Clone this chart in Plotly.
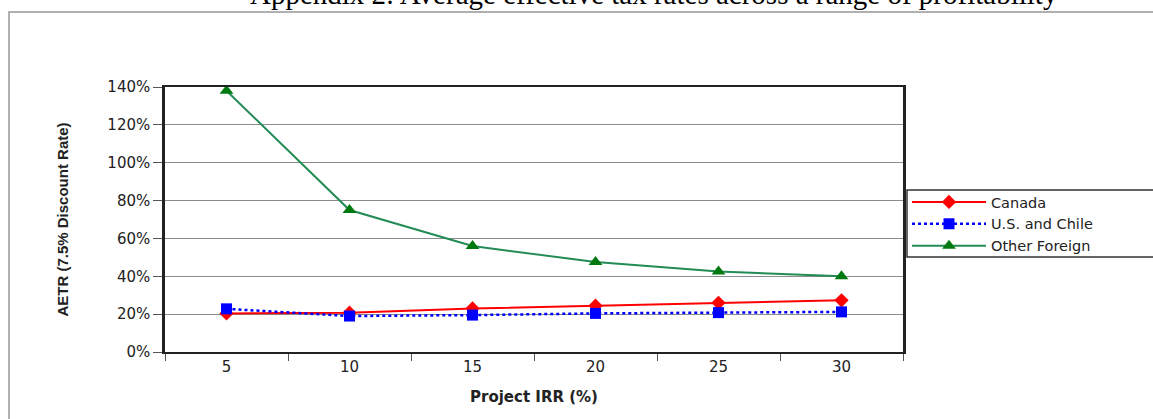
import plotly.graph_objects as go

# Project IRR categories (%)
irr = ["5", "10", "15", "20", "25", "30"]

# Average effective tax rates (%) at a 7.5% discount rate
canada = [20.4, 20.8, 23.0, 24.5, 26.0, 27.3]
us_chile = [22.8, 19.0, 19.5, 20.4, 20.8, 21.2]
other_foreign = [138, 75, 56, 47.5, 42.5, 40]

y_ticks = [0, 20, 40, 60, 80, 100, 120, 140]
y_tick_text = [f"{v}%" for v in y_ticks]

W, H = 1153, 419
L, R, T, B = 165, 250, 87, 67

SANS = "DejaVu Sans, Arial, sans-serif"

fig = go.Figure()
fig.add_trace(go.Scatter(
    x=irr, y=canada, name="Canada", mode="lines+markers",
    line=dict(color="#ff0000", width=2),
    marker=dict(symbol="diamond", size=11, color="#ff0000"),
))
fig.add_trace(go.Scatter(
    x=irr, y=us_chile, name="U.S. and Chile", mode="lines+markers",
    line=dict(color="#0000ff", width=2.5, dash="dot"),
    marker=dict(symbol="square", size=11, color="#0000ff"),
))
fig.add_trace(go.Scatter(
    x=irr, y=other_foreign, name="Other Foreign", mode="lines+markers",
    line=dict(color="#238b55", width=2),
    marker=dict(symbol="triangle-up", size=12, color="#007a10"),
))

def px_to_paper_x(px):
    return (px - L) / (W - L - R)

def px_to_paper_y(py):
    return (H - B - py) / (H - T - B)

# Outer chart frame
fig.add_shape(
    type="rect", xref="paper", yref="paper",
    x0=px_to_paper_x(9), x1=px_to_paper_x(1170),
    y0=px_to_paper_y(440), y1=px_to_paper_y(12),
    line=dict(color="#b0b0b0", width=2), fillcolor="rgba(0,0,0,0)",
    layer="below",
)

# Legend frame (runs off the right edge of the chart area)
fig.add_shape(
    type="rect", xref="paper", yref="paper",
    x0=px_to_paper_x(907), x1=px_to_paper_x(1170),
    y0=px_to_paper_y(257), y1=px_to_paper_y(190),
    line=dict(color="#333", width=1.5), fillcolor="rgba(0,0,0,0)",
    layer="above",
)

fig.add_annotation(
    text="Appendix 2: Average effective tax rates across a range of profitability",
    xref="paper", yref="paper",
    x=px_to_paper_x(654), y=px_to_paper_y(12),
    xanchor="center", yanchor="bottom", showarrow=False,
    font=dict(family="Liberation Serif, Times New Roman, serif", size=29, color="#000"),
)

fig.update_layout(
    width=W, height=H,
    margin=dict(l=L, r=R, t=T, b=B),
    paper_bgcolor="white", plot_bgcolor="white",
    font=dict(family=SANS, size=14, color="#222"),
    showlegend=True,
    legend=dict(
        x=px_to_paper_x(907), y=px_to_paper_y(186),
        xanchor="left", yanchor="top",
        borderwidth=0, bgcolor="rgba(0,0,0,0)",
        font=dict(family=SANS, size=14.5, color="#222"),
        tracegroupgap=0, itemwidth=74,
    ),
    xaxis=dict(
        type="category", range=[-0.5, 5.5],
        tickson="boundaries", ticks="outside", ticklen=7,
        tickcolor="#555", showgrid=False,
        showline=True, mirror=True, linecolor="#222", linewidth=2,
        title=dict(text="<b>Project IRR (%)</b>",
                   font=dict(family=SANS, size=15, color="#222"), standoff=16),
        tickfont=dict(family=SANS, size=15),
    ),
    yaxis=dict(
        range=[0, 140], tickvals=y_ticks, ticktext=y_tick_text,
        ticks="outside", ticklen=9, tickcolor="#555",
        showgrid=True, gridcolor="#8c8c8c", gridwidth=1,
        showline=True, mirror=True, linecolor="#222", linewidth=2.5,
        zeroline=False,
        title=dict(text="<b>AETR (7.5% Discount Rate)</b>",
                   font=dict(family="Liberation Sans, Arial, sans-serif", size=15, color="#222"),
                   standoff=36),
        tickfont=dict(family=SANS, size=15),
    ),
)

fig.write_html("out.html")
